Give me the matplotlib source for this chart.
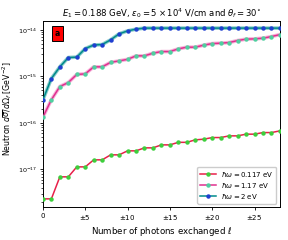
import matplotlib
matplotlib.use('Agg')
import matplotlib.pyplot as plt

# photon number exchanged
ell = list(range(0, 29))

# hbar*omega = 0.117 eV
sigma_0117 = [2.32e-18, 2.32e-18, 6.9e-18, 6.9e-18, 1.13e-17, 1.13e-17, 1.60e-17, 1.60e-17,
              2.05e-17, 2.05e-17, 2.50e-17, 2.50e-17, 2.90e-17, 2.90e-17, 3.36e-17, 3.36e-17,
              3.81e-17, 3.81e-17, 4.31e-17, 4.45e-17, 4.83e-17, 4.83e-17, 5.25e-17, 5.25e-17,
              5.71e-17, 5.71e-17, 6.18e-17, 6.18e-17, 6.73e-17]

# hbar*omega = 1.17 eV
sigma_117 = [1.33e-16, 3.13e-16, 6.04e-16, 7.36e-16, 1.10e-15, 1.13e-15, 1.60e-15, 1.60e-15,
             2.00e-15, 2.15e-15, 2.32e-15, 2.76e-15, 2.76e-15, 3.15e-15, 3.41e-15, 3.41e-15,
             3.90e-15, 4.24e-15, 4.24e-15, 4.69e-15, 5.07e-15, 5.17e-15, 5.33e-15, 5.89e-15,
             6.31e-15, 6.40e-15, 6.62e-15, 7.17e-15, 7.92e-15]

# hbar*omega = 2 eV
sigma_2 = [3.13e-16, 8.97e-16, 1.60e-15, 2.54e-15, 2.59e-15, 3.96e-15, 4.71e-15, 4.83e-15,
           6.10e-15, 8.20e-15, 9.50e-15, 1.035e-14, 1.09e-14, 1.09e-14, 1.09e-14, 1.09e-14,
           1.09e-14, 1.09e-14, 1.09e-14, 1.09e-14, 1.09e-14, 1.09e-14, 1.09e-14, 1.09e-14,
           1.09e-14, 1.09e-14, 1.09e-14, 1.09e-14, 1.09e-14]

xticks = [0, 5, 10, 15, 20, 25]
xticklabels = ['0', r'$\pm5$', r'$\pm10$', r'$\pm15$', r'$\pm20$', r'$\pm25$']

fig = plt.figure(figsize=(2.88, 2.4), dpi=100)
ax = fig.add_axes([0.149, 0.1375, 0.823, 0.775])

# light halos under two curves
ax.plot(ell, sigma_117, color='#f6b3d9', lw=2.6, zorder=1)
ax.plot(ell, sigma_2, color='#8ccccc', lw=2.6, zorder=1)

ax.plot(ell, sigma_0117, color='#e8204a', lw=1.1, marker='o', ms=2.2,
        mfc='#3ccf3c', mec='#3ccf3c', label=r'$\hbar\omega = 0.117$ eV', zorder=3)
ax.plot(ell, sigma_117, color='#e0308f', lw=1.1, marker='o', ms=2.2,
        mfc='#4fd0a0', mec='#4fd0a0', label=r'$\hbar\omega = 1.17$ eV', zorder=3)
ax.plot(ell, sigma_2, color='#008b8b', lw=1.1, marker='o', ms=2.2,
        mfc='#1f3fd0', mec='#1f3fd0', label=r'$\hbar\omega = 2$ eV', zorder=3)

ax.set_yscale('log')
ax.set_xlim(0, 28)
ax.set_ylim(1.55e-18, 1.55e-14)
ax.set_xticks(xticks)
ax.set_xticklabels(xticklabels)
ax.tick_params(labelsize=5, length=2.5, width=0.6, pad=2)
ax.tick_params(axis='y', labelsize=4.6, pad=1.5)
ax.tick_params(which='minor', length=1.5, width=0.5)
for s in ax.spines.values():
    s.set_linewidth(0.7)

ax.set_title(r'$E_1 = 0.188$ GeV, $\varepsilon_0 = 5\times10^4$ V/cm and $\theta_f = 30^{\circ}$',
             fontsize=6.1, pad=3)
ax.set_xlabel(r'Number of photons exchanged $\ell$', fontsize=6.2, labelpad=2)
ax.set_ylabel(r'Neutron $d\overline{\sigma}/d\Omega_f$ [GeV$^{-2}$]', fontsize=5.7)
ax.yaxis.set_label_coords(-0.12, 0.53)

ax.text(0.061, 0.933, 'a', transform=ax.transAxes, ha='center', va='center',
        fontsize=5.5, fontweight='bold', color='black',
        bbox=dict(boxstyle='square,pad=0.4', fc='red', ec='black', lw=0.7))

ax.legend(loc='lower right', fontsize=5, handlelength=2.2, borderpad=0.4,
          labelspacing=0.3, framealpha=1.0, edgecolor='#cccccc')

fig.savefig('out.png', dpi=100)
